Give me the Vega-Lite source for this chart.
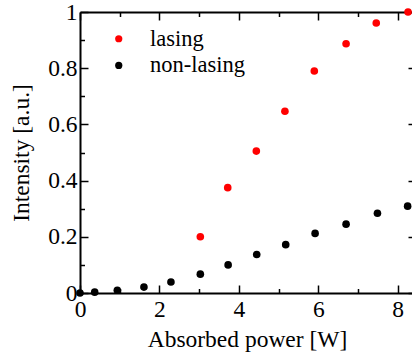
{
  "$schema": "https://vega.github.io/schema/vega-lite/v6.json",
  "width": 332,
  "height": 281,
  "autosize": {"type": "none"},
  "padding": {"left": 80, "top": 12, "right": 0, "bottom": 61},
  "background": "white",
  "config": {
    "view": {"stroke": null},
    "font": "Liberation Serif, Times New Roman, Times, serif",
    "axis": {
      "grid": false,
      "domainColor": "black",
      "tickColor": "black",
      "labelColor": "black",
      "titleColor": "black",
      "labelFont": "Liberation Serif, Times New Roman, Times, serif",
      "titleFont": "Liberation Serif, Times New Roman, Times, serif",
      "labelFontSize": 23.5,
      "titleFontSize": 23.5,
      "titleFontWeight": "normal",
      "domainWidth": 2,
      "tickWidth": 1.5,
      "labelFlush": false,
      "labelOverlap": false
    },
    "legend": {
      "labelFont": "Liberation Serif, Times New Roman, Times, serif"
    }
  },
  "data": {
    "values": [
      {"power": 3.03, "intensity": 0.2, "type": "lasing"},
      {"power": 3.72, "intensity": 0.375, "type": "lasing"},
      {"power": 4.44, "intensity": 0.505, "type": "lasing"},
      {"power": 5.16, "intensity": 0.647, "type": "lasing"},
      {"power": 5.9, "intensity": 0.79, "type": "lasing"},
      {"power": 6.7, "intensity": 0.887, "type": "lasing"},
      {"power": 7.46, "intensity": 0.961, "type": "lasing"},
      {"power": 8.26, "intensity": 1.0, "type": "lasing"},
      {"power": 0.0, "intensity": 0.0, "type": "non-lasing"},
      {"power": 0.37, "intensity": 0.003, "type": "non-lasing"},
      {"power": 0.94, "intensity": 0.01, "type": "non-lasing"},
      {"power": 1.61, "intensity": 0.021, "type": "non-lasing"},
      {"power": 2.29, "intensity": 0.039, "type": "non-lasing"},
      {"power": 3.03, "intensity": 0.067, "type": "non-lasing"},
      {"power": 3.73, "intensity": 0.1, "type": "non-lasing"},
      {"power": 4.45, "intensity": 0.137, "type": "non-lasing"},
      {"power": 5.18, "intensity": 0.172, "type": "non-lasing"},
      {"power": 5.92, "intensity": 0.212, "type": "non-lasing"},
      {"power": 6.7, "intensity": 0.245, "type": "non-lasing"},
      {"power": 7.49, "intensity": 0.284, "type": "non-lasing"},
      {"power": 8.25, "intensity": 0.309, "type": "non-lasing"}
    ]
  },
  "layer": [
    {
      "mark": {"type": "point", "filled": true, "size": 58, "opacity": 1},
      "encoding": {
        "x": {"field": "power", "type": "quantitative", "scale": {"domain": [0, 8.36], "nice": false, "zero": false},
          "axis": {"orient": "bottom", "values": [0, 2, 4, 6, 8], "ticks": false, "labelPadding": 4, "domain": true,
            "title": "Absorbed power [W]", "titleX": 167, "titleY": 53, "titleBaseline": "alphabetic"}},
        "y": {"field": "intensity", "type": "quantitative", "scale": {"domain": [0, 1], "nice": false, "zero": false},
          "axis": {"orient": "left", "values": [0, 0.2, 0.4, 0.6, 0.8, 1], "format": "~g", "ticks": false, "labelPadding": 3, "domain": true,
            "title": "Intensity [a.u.]", "titleX": -52, "titleBaseline": "alphabetic"}},
        "color": {"field": "type", "type": "nominal",
          "scale": {"domain": ["lasing", "non-lasing"], "range": ["#ff0000", "#000000"]},
          "legend": {"orient": "none", "legendX": 27.5, "legendY": 15.5, "title": null, "labelFont": "Liberation Serif, Times New Roman, Times, serif",
            "labelFontSize": 22.5, "labelColor": "black", "symbolSize": 52, "symbolType": "circle", "labelOffset": 20,
            "padding": 0, "rowPadding": 3.7, "symbolStrokeWidth": 0}}
      }
    },
    {
      "mark": {"type": "point", "opacity": 0},
      "encoding": {
        "x": {"field": "power", "type": "quantitative", "scale": {"domain": [0, 8.36], "nice": false, "zero": false},
          "axis": {"orient": "bottom", "values": [0, 2, 4, 6, 8], "offset": -8, "tickSize": 8, "labels": false, "domain": false, "title": null}},
        "y": {"field": "intensity", "type": "quantitative", "scale": {"domain": [0, 1], "nice": false, "zero": false},
          "axis": {"orient": "left", "values": [0, 0.2, 0.4, 0.6, 0.8, 1], "offset": -8, "tickSize": 8, "labels": false, "domain": false, "title": null}}
      }
    },
    {
      "mark": {"type": "point", "opacity": 0},
      "encoding": {
        "x": {"field": "power", "type": "quantitative", "scale": {"domain": [0, 8.36], "nice": false, "zero": false},
          "axis": {"orient": "bottom", "values": [1, 3, 5, 7], "offset": -4.5, "tickSize": 4.5, "labels": false, "domain": false, "title": null}},
        "y": {"field": "intensity", "type": "quantitative", "scale": {"domain": [0, 1], "nice": false, "zero": false},
          "axis": {"orient": "left", "values": [0.1, 0.3, 0.5, 0.7, 0.9], "offset": -4.5, "tickSize": 4.5, "labels": false, "domain": false, "title": null}}
      }
    },
    {
      "mark": {"type": "point", "opacity": 0},
      "encoding": {
        "x": {"field": "power", "type": "quantitative", "scale": {"domain": [0, 8.36], "nice": false, "zero": false},
          "axis": {"orient": "top", "values": [0, 2, 4, 6, 8], "offset": -8, "tickSize": 8, "labels": false, "domain": false, "title": null}},
        "y": {"field": "intensity", "type": "quantitative", "scale": {"domain": [0, 1], "nice": false, "zero": false},
          "axis": {"orient": "right", "values": [0, 0.2, 0.4, 0.6, 0.8, 1], "offset": -4, "tickSize": 4, "labels": false, "domain": false, "title": null}}
      }
    },
    {
      "mark": {"type": "point", "opacity": 0},
      "encoding": {
        "x": {"field": "power", "type": "quantitative", "scale": {"domain": [0, 8.36], "nice": false, "zero": false},
          "axis": {"orient": "top", "values": [1, 3, 5, 7], "offset": -4.5, "tickSize": 4.5, "labels": false, "domain": false, "title": null}},
        "y": {"field": "intensity", "type": "quantitative", "scale": {"domain": [0, 1], "nice": false, "zero": false}, "axis": null}
      }
    },
    {
      "mark": {"type": "point", "opacity": 0},
      "encoding": {
        "x": {"field": "power", "type": "quantitative", "scale": {"domain": [0, 8.36], "nice": false, "zero": false},
          "axis": {"orient": "top", "ticks": false, "labels": false, "domain": true, "title": null}},
        "y": {"field": "intensity", "type": "quantitative", "scale": {"domain": [0, 1], "nice": false, "zero": false}, "axis": null}
      }
    }
  ],
  "resolve": {"axis": {"x": "independent", "y": "independent"}}
}
